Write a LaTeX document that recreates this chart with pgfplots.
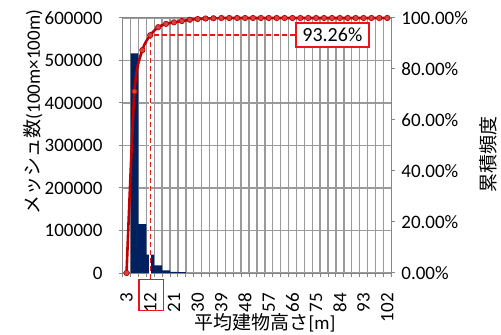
\documentclass[border=0pt]{standalone}
\usepackage{pgfplots}
\pgfplotsset{compat=1.18}
\usepackage{pgfplotstable}
\usepackage{fontspec}
\setmainfont{Carlito}
\newfontfamily\jp{Noto Sans CJK JP}

\definecolor{barblue}{HTML}{002060}
\definecolor{cumred}{HTML}{C00000}
\definecolor{markred}{HTML}{D24545}
\definecolor{gridgray}{HTML}{9A9A9A}
\definecolor{axgray}{HTML}{868686}
\definecolor{boxred}{RGB}{240,20,20}

\newcommand\lblfont{\fontsize{19bp}{22bp}\selectfont}

% mesh counts per 3 m height class (index 0 = 3 m, 1 = 6 m, ...)
\pgfplotstableread{
idx count
0 0
1 517000
2 115000
3 43000
4 18000
5 6000
6 2500
7 2000
}\counttable

% cumulative frequency [%]
\pgfplotstableread{
idx cum
0 0
1 71.2
2 87.4
3 93.26
4 96.4
5 97.7
6 98.3
7 98.8
8 99.3
9 99.6
10 99.8
11 99.9
12 100
13 100
14 100
15 100
16 100
17 100
18 100
19 100
20 100
21 100
22 100
23 100
24 100
25 100
26 100
27 100
28 100
29 100
30 100
31 100
32 100
33 100
}\cumtable

\pgfplotsset{
  common/.style={
    at={(122.6bp,62bp)}, anchor=south west,
    scale only axis, width=268.6bp, height=255bp,
    xmin=-0.5, xmax=33.5,
    /pgf/number format/assume math mode=true,
    tick label style={font=\lblfont},
    label style={font=\lblfont},
    tick align=outside,
    major tick length=4bp,
    minor tick length=4bp,
    axis line style={axgray, line width=1bp},
  }
}

\begin{document}
\begin{tikzpicture}
\path[use as bounding box] (0,0) rectangle (501bp,335bp);

% counts (left axis)
\begin{axis}[
  common,
  ymin=0, ymax=600000,
  ytick={0,100000,...,600000},
  scaled y ticks=false,
  yticklabel style={/pgf/number format/fixed, /pgf/number format/1000 sep={}, anchor=east, inner sep=0pt},
  yticklabel shift=16bp,
  xtick={0,3,...,33},
  xticklabels={3,12,21,30,39,48,57,66,75,84,93,102},
  xticklabel style={rotate=90, anchor=east, inner sep=0pt},
  xticklabel shift=16bp,
  minor xtick={-0.5,0.5,...,33.5},
  xminorgrids=true, ymajorgrids=true,
  grid style={gridgray, line width=1.4bp},
  major x tick style={draw=none},
  minor x tick style={axgray, line width=1bp},
  y tick style={axgray, line width=1bp},
  xtick pos=bottom, ytick pos=left,
  xlabel={{\jp 平均建物高さ}[m]},
  xlabel style={at={(axis description cs:0.530,-0.194)}, anchor=center},
  ylabel={{\jp メッシュ数}(100m×100m)},
  ylabel style={at={(axis description cs:-0.333,0.631)}, anchor=center},
]
\addplot[ybar, bar width=1, fill=barblue, draw=none] table[x=idx, y=count]{\counttable};
\end{axis}

% cumulative frequency (right axis)
\begin{axis}[
  common,
  ymin=0, ymax=100,
  axis x line=none,
  axis y line*=right,
  ytick={0,20,...,100},
  yticklabels={0.00\%,20.00\%,40.00\%,60.00\%,80.00\%,100.00\%},
  yticklabel style={anchor=west, inner sep=0pt},
  yticklabel shift=6bp,
  y tick style={axgray, line width=1bp},
  clip=false,
  ylabel={\jp 累積頻度},
  ylabel style={at={(axis description cs:1.360,0.463)}, anchor=center},
]
\addplot[white, line width=1.8bp] coordinates {(3,93.26) (3,-2.4)};
\addplot[boxred, solid, line width=1.5bp, dash pattern=on 5bp off 3bp] coordinates {(3,-2.4) (3,93.26) (21.4,93.26)};
\addplot[cumred, line width=2.6bp, smooth, tension=0.45,
  mark=*, mark size=2.7bp,
  mark options={solid, fill=markred, draw=cumred, line width=0.7bp}]
  table[x=idx, y=cum]{\cumtable};
\node[draw=boxred, solid, line width=1.5bp, fill=white, minimum width=73bp, minimum height=24bp,
  inner sep=0pt, font=\fontsize{20bp}{24bp}\selectfont]
  at (axis cs:26.05,93.26) {93.26\%};
% frame around the 12 m tick label
\node[draw=boxred, solid, line width=1.5bp, minimum width=24.3bp, minimum height=31.4bp,
  inner sep=0pt] at (axis cs:3.113,-8.635) {};
\end{axis}
\end{tikzpicture}
\end{document}
